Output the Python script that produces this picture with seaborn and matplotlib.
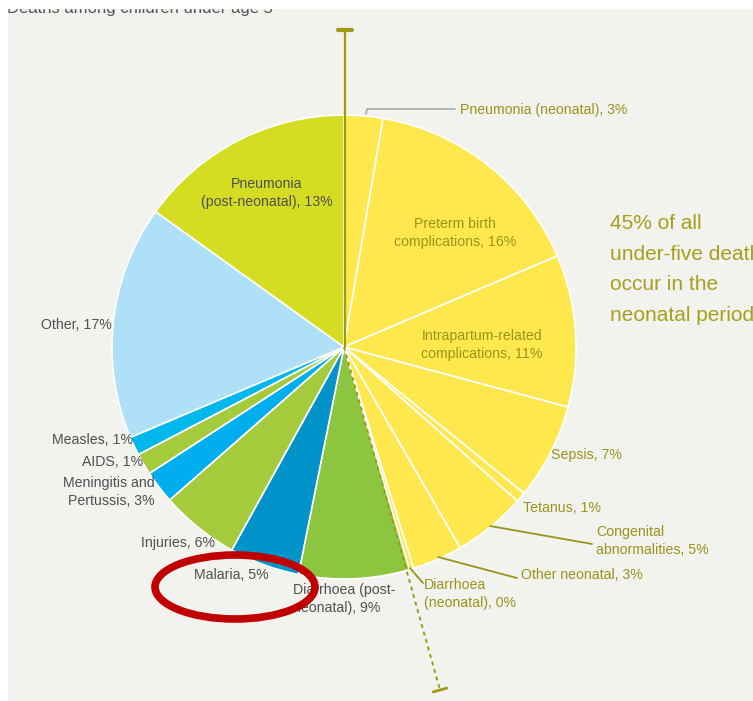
import numpy as np
import matplotlib
matplotlib.use("Agg")
from matplotlib import pyplot as plt
from matplotlib.patches import Rectangle, Ellipse
import seaborn as sns

# causes of death, clockwise from 12 o'clock (share of the pie)
causes = ['Pneumonia (neonatal)', 'Preterm birth complications', 'Intrapartum-related complications',
          'Sepsis', 'Tetanus', 'Congenital abnormalities', 'Other neonatal', 'Diarrhoea (neonatal)',
          'Diarrhoea (post-neonatal)', 'Malaria', 'Injuries', 'Meningitis and Pertussis',
          'AIDS', 'Measles', 'Other', 'Pneumonia (post-neonatal)']
shares = [2.7, 15.9, 10.6, 6.7, 0.7, 5.1, 3.5, 0.3,
          7.7, 4.9, 5.5, 2.3, 1.5, 1.3, 16.3, 15.1]
labels = ['Pneumonia (neonatal), 3%', 'Preterm birth\ncomplications, 16%',
          'Intrapartum-related\ncomplications, 11%', 'Sepsis, 7%', 'Tetanus, 1%',
          'Congenital\nabnormalities, 5%', 'Other neonatal, 3%', 'Diarrhoea\n(neonatal), 0%',
          'Diarrhoea (post-\nneonatal), 9%', 'Malaria, 5%', 'Injuries, 6%',
          'Meningitis and\nPertussis, 3%', 'AIDS, 1%', 'Measles, 1%', 'Other, 17%',
          'Pneumonia\n(post-neonatal), 13%']
neonatal = [True] * 8 + [False] * 8
colors = ['#FFE84D'] * 8 + ['#8CC63E', '#0093C9', '#A5CB3C', '#00AEEF',
                            '#A5CB3C', '#00B8EC', '#AEE0F8', '#D5DD23']
note = '45% of all\nunder-five deaths\noccur in the\nneonatal period'
title = 'Deaths among children under age 5'

OLIVE = '#9A941A'
GREY = '#505050'
W, H = 753, 701

sns.set_theme(style='white')
plt.rcParams['font.family'] = ['Liberation Sans Narrow', 'Liberation Sans', 'DejaVu Sans']


def Y(y):
    # picture rows run downwards, the axes upwards
    return H - y


fig = plt.figure(figsize=(W / 100, H / 100), dpi=100, facecolor='white')
ax = fig.add_axes([0, 0, 1, 1])

ax.add_patch(Rectangle((7, 0), W, H - 8, color='#F2F2EE', zorder=0))

cx, cy, r = 344, Y(347), 232
ax.pie(shares, colors=colors, startangle=90, counterclock=False,
       center=(cx, cy), radius=r, frame=True,
       wedgeprops=dict(edgecolor='white', linewidth=1.2))
ax.set_xlim(0, W)
ax.set_ylim(0, H)
ax.set_aspect('equal')
ax.axis('off')

# neonatal marker lines
ax.plot([345, 345], [Y(30), cy], color='#A09A10', lw=1.6, zorder=5)
ax.plot([338, 352], [Y(30), Y(30)], color='#A09A10', lw=3, zorder=5)
ex, ey = 440, Y(690)
ax.plot([cx, ex], [cy, ey], color='#A09A10', lw=1.4, ls=(0, (2, 2)), zorder=5)
d = np.array([ex - cx, ey - cy]); d = d / np.hypot(*d)
p = np.array([-d[1], d[0]]) * 7
ax.plot([ex - p[0], ex + p[0]], [ey - p[1], ey + p[1]], color='#A09A10', lw=2, zorder=5)

# leader lines
ax.plot([366, 367, 455], [Y(114), Y(109), Y(109)], color='#A8A8A8', lw=1.2)
ax.plot([490, 592], [Y(526), Y(544)], color=OLIVE, lw=1.3)
ax.plot([438, 517], [Y(557), Y(578)], color=OLIVE, lw=1.3)
ax.plot([410, 423], [Y(568), Y(583)], color=OLIVE, lw=1.3)

# label placement: (x, y, ha)
spots = [(460, 110, 'left'), (455, 233, 'center'), (482, 345, 'center'), (551, 455, 'left'),
         (523, 508, 'left'), (596, 541, 'left'), (521, 575, 'left'), (424, 594, 'left'),
         (293, 599, 'left'), (231, 575, 'center'), (215, 543, 'right'), (155, 492, 'right'),
         (143, 462, 'right'), (133, 440, 'right'), (112, 325, 'right'), (267, 193, 'center')]
for lab, (x, y, ha), neo in zip(labels, spots, neonatal):
    ax.text(x, Y(y), lab, ha=ha, va='center', fontsize=10.2, linespacing=1.3,
            color=OLIVE if neo else GREY, zorder=6)

ax.text(610, Y(214), note, ha='left', va='top', fontsize=15, linespacing=1.78,
        color='#A6A01C', zorder=6)

ax.text(7, Y(13), title, ha='left', va='baseline', fontsize=12, color=GREY, zorder=6)
ax.add_patch(Rectangle((0, H - 8), W, 8, color='white', zorder=7))
ax.add_patch(Rectangle((0, 0), 7, H, color='white', zorder=7))

ax.add_patch(Ellipse((235, Y(587)), 160, 64, fill=False, edgecolor='#C00000', lw=5.5, zorder=8))

plt.savefig('out.png', dpi=100, facecolor='white')
